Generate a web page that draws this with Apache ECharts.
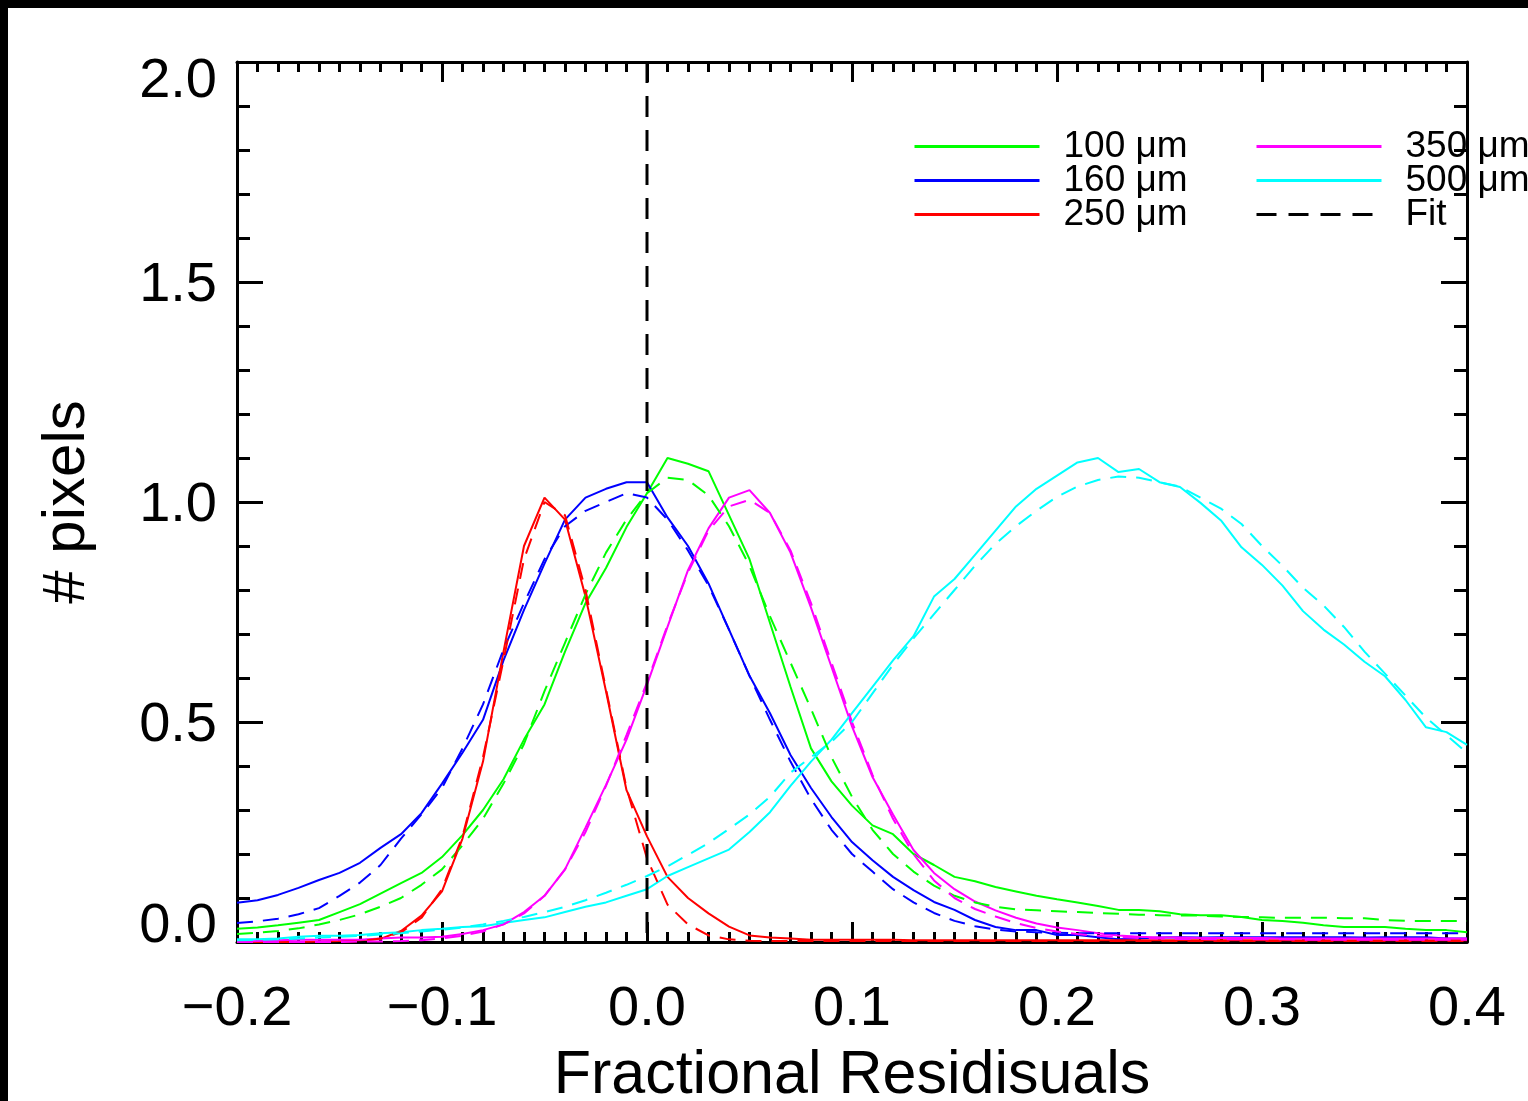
<!DOCTYPE html>
<html>
<head>
<meta charset="utf-8">
<script src="https://cdn.jsdelivr.net/npm/echarts@6/dist/echarts.min.js"></script>
<style>
html,body{margin:0;padding:0;background:#000;width:1528px;height:1101px;overflow:hidden;}
#chart{position:absolute;left:8px;top:8px;width:1520px;height:1093px;background:#fff;}
</style>
</head>
<body>
<div id="chart"></div>
<script>
// x positions (bin centres) of the histograms
const xs = [-0.20,-0.19,-0.18,-0.17,-0.16,-0.15,-0.14,-0.13,-0.12,-0.11,
  -0.10,-0.09,-0.08,-0.07,-0.06,-0.05,-0.04,-0.03,-0.02,-0.01,
  0.00,0.01,0.02,0.03,0.04,0.05,0.06,0.07,0.08,0.09,
  0.10,0.11,0.12,0.13,0.14,0.15,0.16,0.17,0.18,0.19,
  0.20,0.21,0.22,0.23,0.24,0.25,0.26,0.27,0.28,0.29,
  0.30,0.31,0.32,0.33,0.34,0.35,0.36,0.37,0.38,0.39,
  0.40];

const green100 = [0.030,0.033,0.038,0.044,0.050,0.068,0.086,0.110,0.134,0.157,
  0.193,0.243,0.300,0.370,0.460,0.540,0.660,0.770,0.850,0.943,
  1.020,1.100,1.087,1.070,0.970,0.870,0.725,0.580,0.440,0.365,
  0.310,0.265,0.245,0.200,0.175,0.148,0.138,0.125,0.115,0.105,
  0.097,0.090,0.082,0.073,0.073,0.070,0.063,0.061,0.061,0.057,
  0.050,0.048,0.044,0.038,0.034,0.034,0.034,0.030,0.027,0.027,
  0.022];
const green100Fit = [0.018,0.021,0.025,0.031,0.040,0.050,0.063,0.080,0.100,0.130,
  0.165,0.220,0.280,0.360,0.450,0.570,0.680,0.790,0.885,0.960,
  1.020,1.055,1.050,1.015,0.945,0.855,0.740,0.635,0.530,0.420,
  0.330,0.255,0.200,0.160,0.128,0.105,0.090,0.080,0.074,0.072,
  0.070,0.068,0.066,0.064,0.062,0.061,0.060,0.060,0.058,0.057,
  0.056,0.055,0.055,0.055,0.054,0.054,0.050,0.048,0.048,0.048,
  0.048];

const blue160 = [0.089,0.095,0.107,0.123,0.141,0.157,0.180,0.214,0.245,0.293,
  0.360,0.430,0.505,0.640,0.755,0.860,0.960,1.010,1.030,1.045,
  1.045,0.965,0.900,0.815,0.710,0.605,0.520,0.425,0.350,0.284,
  0.227,0.186,0.148,0.118,0.091,0.073,0.050,0.034,0.027,0.027,
  0.016,0.016,0.011,0.006,0.008,0.010,0.011,0.010,0.011,0.011,
  0.011,0.011,0.011,0.011,0.011,0.010,0.011,0.011,0.011,0.008,
  0.008];
const blue160Fit = [0.043,0.047,0.053,0.063,0.077,0.105,0.135,0.175,0.235,0.290,
  0.350,0.440,0.540,0.665,0.770,0.870,0.945,0.980,1.000,1.020,
  1.010,0.960,0.890,0.810,0.710,0.605,0.505,0.410,0.325,0.255,
  0.200,0.160,0.120,0.090,0.066,0.048,0.036,0.028,0.024,0.022,
  0.021,0.020,0.020,0.020,0.020,0.020,0.020,0.020,0.020,0.020,
  0.020,0.020,0.020,0.020,0.020,0.020,0.020,0.020,0.020,0.020,
  0.020];

const red250 = [0.000,0.000,0.000,0.000,0.001,0.002,0.004,0.007,0.025,0.060,
  0.115,0.235,0.410,0.660,0.900,1.010,0.960,0.785,0.570,0.345,
  0.240,0.148,0.100,0.065,0.035,0.015,0.010,0.008,0.005,0.005,
  0.005,0.005,0.005,0.004,0.004,0.004,0.004,0.004,0.004,0.004,
  0.004,0.004,0.004,0.004,0.004,0.004,0.004,0.004,0.004,0.004,
  0.004,0.004,0.004,0.004,0.004,0.004,0.004,0.004,0.004,0.004,
  0.004];
const red250Fit = [0.000,0.000,0.000,0.000,0.000,0.000,0.002,0.008,0.022,0.055,
  0.120,0.240,0.420,0.640,0.870,1.000,0.970,0.800,0.575,0.350,
  0.190,0.085,0.040,0.015,0.006,0.003,0.002,0.002,0.002,0.002,
  0.002,0.002,0.002,0.002,0.002,0.002,0.002,0.002,0.002,0.002,
  0.002,0.002,0.002,0.002,0.002,0.002,0.002,0.002,0.002,0.002,
  0.002,0.002,0.002,0.002,0.002,0.002,0.002,0.002,0.002,0.002,
  0.002];

const magenta350 = [0.000,0.002,0.004,0.005,0.005,0.005,0.005,0.008,0.010,0.010,
  0.012,0.018,0.027,0.040,0.068,0.105,0.165,0.260,0.357,0.460,
  0.585,0.716,0.845,0.940,1.010,1.027,0.975,0.885,0.760,0.625,
  0.490,0.375,0.290,0.209,0.157,0.120,0.092,0.072,0.055,0.042,
  0.033,0.027,0.020,0.015,0.012,0.010,0.010,0.009,0.009,0.009,
  0.009,0.008,0.008,0.008,0.008,0.008,0.008,0.008,0.008,0.008,
  0.008];
const magenta350Fit = [0.000,0.000,0.000,0.000,0.000,0.000,0.001,0.001,0.002,0.004,
  0.008,0.014,0.024,0.040,0.065,0.105,0.165,0.250,0.355,0.470,
  0.590,0.720,0.840,0.935,0.990,1.005,0.975,0.890,0.770,0.635,
  0.500,0.380,0.280,0.200,0.140,0.100,0.075,0.058,0.043,0.032,
  0.024,0.018,0.014,0.011,0.009,0.008,0.007,0.007,0.006,0.006,
  0.006,0.006,0.005,0.005,0.005,0.005,0.005,0.005,0.005,0.005,
  0.005];

const cyan500 = [0.006,0.006,0.008,0.012,0.014,0.014,0.016,0.020,0.022,0.027,
  0.030,0.034,0.036,0.043,0.050,0.056,0.068,0.080,0.090,0.105,
  0.120,0.150,0.170,0.190,0.210,0.250,0.295,0.355,0.410,0.460,
  0.520,0.580,0.640,0.695,0.785,0.825,0.880,0.935,0.990,1.030,
  1.060,1.090,1.100,1.068,1.075,1.045,1.034,0.998,0.958,0.897,
  0.857,0.810,0.752,0.710,0.676,0.637,0.604,0.550,0.488,0.477,
  0.448];
const cyan500Fit = [0.004,0.005,0.006,0.008,0.010,0.012,0.014,0.017,0.020,0.024,
  0.028,0.033,0.040,0.048,0.057,0.068,0.080,0.095,0.112,0.130,
  0.150,0.172,0.198,0.225,0.257,0.290,0.330,0.385,0.420,0.455,
  0.500,0.565,0.630,0.690,0.745,0.800,0.855,0.905,0.945,0.980,
  1.012,1.035,1.050,1.058,1.055,1.045,1.035,1.010,0.985,0.950,
  0.900,0.855,0.805,0.765,0.716,0.660,0.610,0.560,0.510,0.470,
  0.430];

const seriesNames = ['100 μm','160 μm','250 μm','350 μm','500 μm'];
const seriesColors = ['#00ff00','#0000ff','#ff0000','#ff00ff','#00ffff'];
const dataSets = [green100, blue160, red250, magenta350, cyan500];
const fitSets = [green100Fit, blue160Fit, red250Fit, magenta350Fit, cyan500Fit];
const zeroLine = [[0, 2], [0, 0]];

const FONT = '"Liberation Sans", "DejaVu Sans", sans-serif';
const pairs = arr => xs.map((x, i) => [x, arr[i]]);

const series = [];
for (let k = 0; k < 5; k++) {
  series.push({
    type: 'line', name: seriesNames[k], data: pairs(dataSets[k]),
    symbol: 'none', silent: true, color: seriesColors[k],
    lineStyle: {color: seriesColors[k], width: 2}, z: 3
  });
}
for (let k = 0; k < 5; k++) {
  series.push({
    type: 'line', name: seriesNames[k] + ' fit', data: pairs(fitSets[k]),
    symbol: 'none', silent: true, color: seriesColors[k],
    lineStyle: {color: seriesColors[k], width: 2, type: [16, 10]}, z: 3
  });
}
series.push({
  type: 'line', name: 'zero', data: zeroLine, symbol: 'none', silent: true,
  color: '#000', lineStyle: {color: '#000', width: 3, type: [21, 13]}, z: 4
});
series.push({
  type: 'line', name: 'Fit', data: [], symbol: 'none', color: '#000',
  lineStyle: {color: '#000', width: 2, type: [20, 12]}
});

function legendAt(name, left, top) {
  return {
    data: [name], left: left, top: top, orient: 'vertical', padding: 0,
    itemWidth: 125, itemHeight: 14, selectedMode: false,
    lineStyle: {width: 3},
    itemStyle: {opacity: 0},
    textStyle: {fontFamily: FONT, fontSize: 37, color: '#000', lineHeight: 34, padding: [0, 0, 0, 19]}
  };
}

const tickStyle = {color: '#000', width: 3};
const xCommon = {
  type: 'value', min: -0.2, max: 0.4, interval: 0.1,
  axisLine: {show: true, onZero: false, lineStyle: {color: '#000', width: 3}},
  axisTick: {show: true, inside: true, length: 20, lineStyle: tickStyle},
  minorTick: {show: true, splitNumber: 10, length: 10, lineStyle: tickStyle},
  splitLine: {show: false}, minorSplitLine: {show: false}
};
const yCommon = {
  type: 'value', min: 0, max: 2, interval: 0.5,
  axisLine: {show: true, onZero: false, lineStyle: {color: '#000', width: 3}},
  axisTick: {show: true, inside: true, length: 26, lineStyle: tickStyle},
  minorTick: {show: true, splitNumber: 5, length: 13, lineStyle: tickStyle},
  splitLine: {show: false}, minorSplitLine: {show: false}
};

const option = {
  animation: false,
  backgroundColor: '#fff',
  grid: {left: 229, top: 54, width: 1230, height: 880, containLabel: false, outerBoundsMode: 'none'},
  legend: [
    legendAt('100 μm', 905, 120), legendAt('160 μm', 905, 154), legendAt('250 μm', 905, 188),
    legendAt('350 μm', 1247, 120), legendAt('500 μm', 1247, 154), legendAt('Fit', 1247, 188)
  ],
  xAxis: [
    Object.assign({}, xCommon, {
      position: 'bottom',
      name: 'Fractional Residisuals', nameLocation: 'middle', nameGap: 104,
      nameTextStyle: {fontFamily: FONT, fontSize: 61, color: '#000'},
      axisLabel: {
        show: true, margin: 40, color: '#000', fontFamily: FONT, fontSize: 56,
        formatter: v => (v < -1e-9 ? '\u2212' + (-v).toFixed(1) : Math.abs(v).toFixed(1))
      }
    }),
    Object.assign({}, xCommon, {position: 'top', axisLabel: {show: false}})
  ],
  yAxis: [
    Object.assign({}, yCommon, {
      position: 'left',
      name: '# pixels', nameLocation: 'middle', nameGap: 140, nameRotate: 90,
      nameTextStyle: {fontFamily: FONT, fontSize: 60, color: '#000'},
      axisLabel: {
        show: true, margin: 20, color: '#000', fontFamily: FONT, fontSize: 56,
        formatter: v => {
          const s = v.toFixed(1);
          if (Math.abs(v - 2) < 1e-9) return '{t|' + s + '}';
          if (Math.abs(v) < 1e-9) return '{b|' + s + '}';
          return '{m|' + s + '}';
        },
        rich: {
          t: {fontFamily: FONT, fontSize: 56, color: '#000', padding: [40, 0, 0, 0]},
          b: {fontFamily: FONT, fontSize: 56, color: '#000', padding: [0, 0, 30, 0]},
          m: {fontFamily: FONT, fontSize: 56, color: '#000', padding: [8, 0, 0, 0]}
        }
      }
    }),
    Object.assign({}, yCommon, {position: 'right', axisLabel: {show: false}})
  ],
  series: series
};

const chart = echarts.init(document.getElementById('chart'), null, {renderer: 'canvas'});
chart.setOption(option);
</script>
</body>
</html>
